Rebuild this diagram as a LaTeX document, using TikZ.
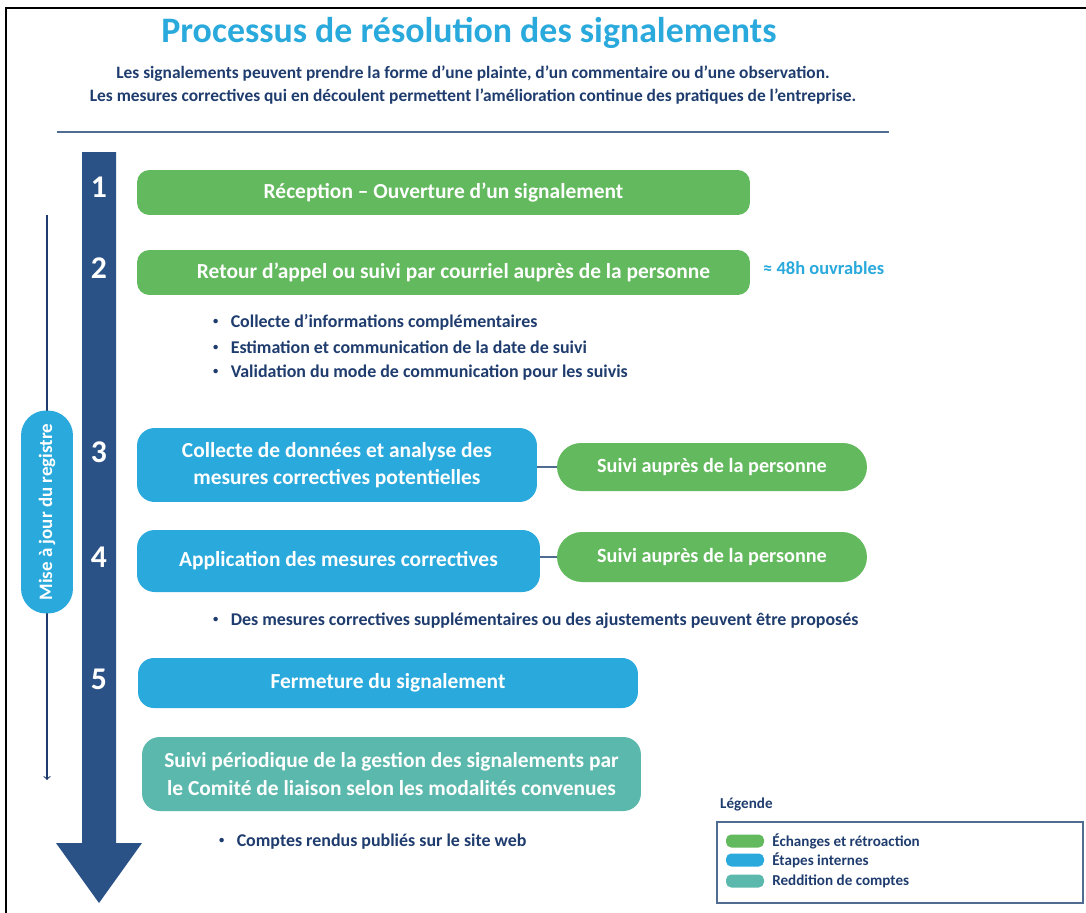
\documentclass[tikz,border=0pt]{standalone}
\usepackage{fontspec}
\setmainfont{Carlito}
\usetikzlibrary{arrows, calc, positioning}

\definecolor{vertech}{RGB}{99,185,93}
\definecolor{bleuint}{RGB}{41,169,220}
\definecolor{sarcelle}{RGB}{91,184,172}
\definecolor{marine}{RGB}{42,82,134}
\definecolor{encre}{RGB}{31,60,110}
\definecolor{trait}{RGB}{80,108,145}

\newcommand{\petitpuce}{\raisebox{0.35ex}{\fontsize{6}{6}\selectfont •}\hspace{7pt}}

\tikzset{
	boite/.style={rounded corners=7pt, text=white, align=center, inner sep=0pt, font=\bfseries\fontsize{12.2}{15.5}\selectfont},
	pilule/.style={boite, rounded corners=13pt},
	numero/.style={text=white, font=\bfseries\fontsize{18}{18}\selectfont},
	puce/.style={anchor=west, text=encre, font=\bfseries\fontsize{10.2}{12}\selectfont},
	legende/.style={anchor=west, text=encre, font=\bfseries\fontsize{8.6}{10}\selectfont},
	carre/.style={rounded corners=3pt, minimum width=0.76cm, minimum height=0.26cm, inner sep=0pt}
}

\begin{document}
\begin{tikzpicture}[x=0.02cm, y=-0.02cm]
	\useasboundingbox (0,0) rectangle (1086,913);
	\fill[white] (0,0) rectangle (1086,913);
	\draw[black, line width=1.2pt] (6,913) -- (6,8) -- (1086,8);

	% titre
	\node (titre) at (469,33) [text=bleuint, font=\bfseries\fontsize{20.4}{22}\selectfont] {Processus de résolution des signalements};
	\node (soustitre) at (473,85) [text=encre, align=center, font=\bfseries\fontsize{9.9}{12.8}\selectfont]
		{Les signalements peuvent prendre la forme d’une plainte, d’un commentaire ou d’une observation.\\
		 Les mesures correctives qui en découlent permettent l'amélioration continue des pratiques de l'entreprise.};
	\coordinate (regleG) at (57,132);
	\coordinate (regleD) at (889,132);
	\draw[trait, line width=0.9pt] (regleG) -- (regleD);

	% grande fleche
	\fill[marine] (82,152) -- (116,152) -- (116,843) -- (142,843) -- (99,903) -- (56,843) -- (82,843) -- cycle;
	\node[numero] (n1) at (99,187) {1};
	\node[numero] (n2) at (99,268) {2};
	\node[numero] (n3) at (99,452) {3};
	\node[numero] (n4) at (99,557) {4};
	\node[numero] (n5) at (99,679) {5};

	% registre
	\coordinate (regHaut) at (47,215);
	\coordinate (regBas) at (47,780);
	\draw[encre, line width=0.6pt, ->] (regHaut) -- (regBas);
	\node (registre) at (47,512) [pilule, fill=bleuint, rotate=90, minimum width=4.06cm, minimum height=1.04cm, rounded corners=0.5cm,
		font=\bfseries\fontsize{10.8}{12}\selectfont] {Mise à jour du registre};

	% etapes
	\node (e1) at (443.5,192.5) [boite, fill=vertech, minimum width=12.26cm, minimum height=0.9cm] {Réception – Ouverture d’un signalement};
	\node (e2) at (443.5,272.5) [boite, fill=vertech, minimum width=12.26cm, minimum height=0.9cm] {\hspace{0.4cm}Retour d’appel ou suivi par courriel auprès de la personne};
	\node (delai) at (757,268) [anchor=west, text=bleuint, font=\bfseries\fontsize{10.5}{12}\selectfont] {≈ 48h ouvrables};

	\node (p1) at (207,322) [puce] {\petitpuce Collecte d’informations complémentaires};
	\node (p2) at (207,347) [puce] {\petitpuce Estimation et communication de la date de suivi};
	\node (p3) at (207,373) [puce] {\petitpuce Validation du mode de communication pour les suivis};

	\node (e3) at (337,465) [boite, fill=bleuint, minimum width=8cm, minimum height=1.48cm, rounded corners=10pt]
		{Collecte de données et analyse des\\ mesures correctives potentielles};
	\node (s3) at (712,467) [pilule, fill=vertech, minimum width=6.2cm, minimum height=0.96cm, rounded corners=0.48cm,
		font=\bfseries\fontsize{11.5}{13}\selectfont] {Suivi auprès de la personne};
	\draw[trait, semithick] (e3.east |- s3.west) -- (s3.west);

	\node (e4) at (338.5,561) [boite, fill=bleuint, minimum width=8.06cm, minimum height=1.24cm, rounded corners=10pt]
		{Application des mesures correctives};
	\node (s4) at (712,557) [pilule, fill=vertech, minimum width=6.2cm, minimum height=1cm, rounded corners=0.5cm,
		font=\bfseries\fontsize{11.5}{13}\selectfont] {Suivi auprès de la personne};
	\draw[trait, semithick] (e4.east |- s4.west) -- (s4.west);

	\node (p4) at (207,621) [puce] {\petitpuce Des mesures correctives supplémentaires ou des ajustements peuvent être proposés};

	\node (e5) at (388,683) [boite, fill=bleuint, minimum width=10cm, minimum height=1cm, rounded corners=9pt] {Fermeture du signalement};
	\node (e6) at (391.5,774) [boite, fill=sarcelle, minimum width=9.98cm, minimum height=1.48cm, rounded corners=10pt]
		{Suivi périodique de la gestion des signalements par\\ le Comité de liaison selon les modalités convenues};
	\node (p5) at (213,842) [puce] {\petitpuce Comptes rendus publiés sur le site web};

	% legende
	\node (titreleg) at (714,804) [legende] {Légende};
	\draw[trait, line width=0.8pt] (717,822) rectangle (1083,903);
	\node[carre, fill=vertech] (c1) at (745,841) {};
	\node[carre, fill=bleuint] (c2) at (745,860) {};
	\node[carre, fill=sarcelle] (c3) at (745,881) {};
	\node[legende, right=1pt of c1] (l1) {Échanges et rétroaction};
	\node[legende, right=1pt of c2] (l2) {Étapes internes};
	\node[legende, right=1pt of c3] (l3) {Reddition de comptes};
\end{tikzpicture}
\end{document}
